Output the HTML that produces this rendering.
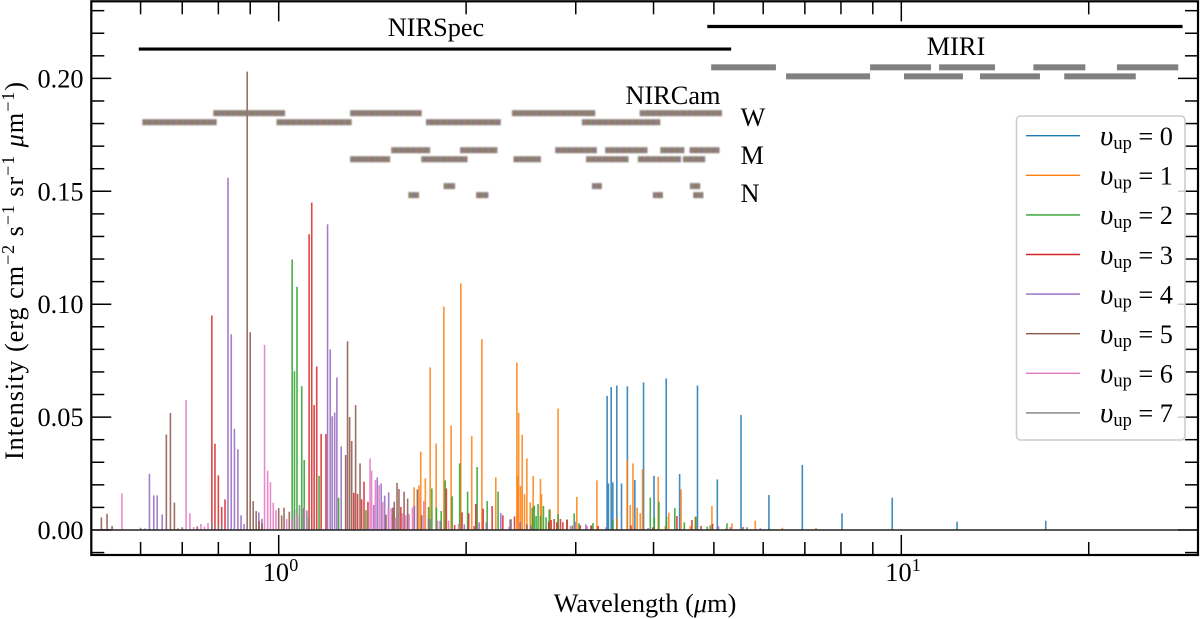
<!DOCTYPE html>
<html lang="en">
<head>
<meta charset="utf-8">
<title>Line intensity spectrum</title>
<style>
html,body{margin:0;padding:0;background:#fff;}
svg{display:block;}
text{font-family:"Liberation Serif","DejaVu Serif",serif;fill:#000;}
</style>
</head>
<body>
<svg id="chart" xmlns="http://www.w3.org/2000/svg" width="1200" height="619" viewBox="0 0 1200 619">
  <defs>
    <pattern id="stripes" patternUnits="userSpaceOnUse" x="0" y="0" width="12" height="10">
      <rect x="0" y="0" width="2" height="10" fill="#937b69"/>
      <rect x="2" y="0" width="2" height="10" fill="#7d8a72"/>
      <rect x="4" y="0" width="2" height="10" fill="#997470"/>
      <rect x="6" y="0" width="2" height="10" fill="#7b7f8c"/>
      <rect x="8" y="0" width="2" height="10" fill="#968268"/>
      <rect x="10" y="0" width="2" height="10" fill="#907280"/>
    </pattern>
    <filter id="soft" x="-5%" y="-40%" width="110%" height="180%">
      <feGaussianBlur stdDeviation="0.8"/>
    </filter>
  </defs>
  <rect x="0" y="0" width="1200" height="619" fill="#fff"/>
  <g id="spectrum"></g>
  <g id="nircam"></g>
  <g id="miri"></g>
  <g id="coverage"></g>
  <g id="ticks"></g>
  <g id="ticklabels"></g>

  <text x="436" y="36" font-size="26.3" text-anchor="middle">NIRSpec</text>
  <text x="956" y="55" font-size="26.3" text-anchor="middle">MIRI</text>
  <text x="673" y="104" font-size="26.3" text-anchor="middle">NIRCam</text>
  <text x="740.5" y="126" font-size="26.3">W</text>
  <text x="740.5" y="164" font-size="26.3">M</text>
  <text x="740.5" y="202" font-size="26.3">N</text>

  <text x="645" y="612" font-size="26.3" text-anchor="middle">Wavelength (<tspan font-style="italic">μ</tspan>m)</text>
  <text transform="translate(23,460) rotate(-90)" font-size="26.3" textLength="378" lengthAdjust="spacing">Intensity (erg cm<tspan font-size="18" dy="-9">−2</tspan><tspan dy="9"> s</tspan><tspan font-size="18" dy="-9">−1</tspan><tspan dy="9"> sr</tspan><tspan font-size="18" dy="-9">−1</tspan><tspan dy="9"> </tspan><tspan font-style="italic">μ</tspan>m<tspan font-size="18" dy="-9">−1</tspan><tspan dy="9">)</tspan></text>

  <g>
    <rect x="1016.5" y="116" width="168.5" height="324" rx="4" ry="4" fill="#fff" fill-opacity="0.8" stroke="#ccc" stroke-width="1.6"/>
    <g><line x1="1026" x2="1080" y1="135.7" y2="135.7" stroke="#1f77b4" stroke-width="1.4"/><text x="1100" y="145" font-size="26.3"><tspan font-style="italic" font-size="29">υ</tspan><tspan font-size="18.5" dy="4">up</tspan><tspan dy="-4"> = 0</tspan></text></g>
    <g><line x1="1026" x2="1080" y1="175.3" y2="175.3" stroke="#ff7f0e" stroke-width="1.4"/><text x="1100" y="184.6" font-size="26.3"><tspan font-style="italic" font-size="29">υ</tspan><tspan font-size="18.5" dy="4">up</tspan><tspan dy="-4"> = 1</tspan></text></g>
    <g><line x1="1026" x2="1080" y1="214.9" y2="214.9" stroke="#2ca02c" stroke-width="1.4"/><text x="1100" y="224.2" font-size="26.3"><tspan font-style="italic" font-size="29">υ</tspan><tspan font-size="18.5" dy="4">up</tspan><tspan dy="-4"> = 2</tspan></text></g>
    <g><line x1="1026" x2="1080" y1="254.5" y2="254.5" stroke="#d62728" stroke-width="1.4"/><text x="1100" y="263.8" font-size="26.3"><tspan font-style="italic" font-size="29">υ</tspan><tspan font-size="18.5" dy="4">up</tspan><tspan dy="-4"> = 3</tspan></text></g>
    <g><line x1="1026" x2="1080" y1="294.1" y2="294.1" stroke="#9467bd" stroke-width="1.4"/><text x="1100" y="303.4" font-size="26.3"><tspan font-style="italic" font-size="29">υ</tspan><tspan font-size="18.5" dy="4">up</tspan><tspan dy="-4"> = 4</tspan></text></g>
    <g><line x1="1026" x2="1080" y1="333.7" y2="333.7" stroke="#8c564b" stroke-width="1.4"/><text x="1100" y="343" font-size="26.3"><tspan font-style="italic" font-size="29">υ</tspan><tspan font-size="18.5" dy="4">up</tspan><tspan dy="-4"> = 5</tspan></text></g>
    <g><line x1="1026" x2="1080" y1="373.3" y2="373.3" stroke="#e377c2" stroke-width="1.4"/><text x="1100" y="382.6" font-size="26.3"><tspan font-style="italic" font-size="29">υ</tspan><tspan font-size="18.5" dy="4">up</tspan><tspan dy="-4"> = 6</tspan></text></g>
    <g><line x1="1026" x2="1080" y1="412.9" y2="412.9" stroke="#7f7f7f" stroke-width="1.4"/><text x="1100" y="422.2" font-size="26.3"><tspan font-style="italic" font-size="29">υ</tspan><tspan font-size="18.5" dy="4">up</tspan><tspan dy="-4"> = 7</tspan></text></g>
  </g>
</svg>
<script>
// Wavelengths (micron) and intensities for each upper vibrational level
const wave0=[3.369,3.385,3.42,3.441,3.492,3.553,3.631,3.733,3.855,4.007,4.192,4.405,4.706,5.064,5.528,6.129,6.935,8.03,9.67,12.29,17.06];
const flux0=[.0594,.0206,.0633,.0211,.064,.0206,.0636,.0221,.0653,.024,.0671,.0248,.064,.0224,.0509,.0155,.0288,.0074,.0143,.0037,.0041];

const wave1=[1.65,1.68,1.691,1.72,1.751,1.79,1.842,1.892,1.961,2.042,2.12,2.232,2.413,2.42,2.429,2.446,2.461,2.482,2.504,2.535,2.563,2.633,2.643,2.729,2.81,3.012,3.244,3.497,3.628,3.67,3.707,3.765,3.808,3.84,4.07,4.177,4.232,4.428,4.582,4.667,4.964,5.346,5.827,6.44,7.295];
const flux1=[.0189,.0198,.0347,.0229,.072,.0383,.099,.0463,.1093,.0416,.0845,.0233,.0742,.0239,.0519,.0195,.0422,.0159,.0317,.0122,.0239,.0227,.0159,.0091,.0538,.0147,.022,.0055,.031,.0111,.0295,.0099,.0074,.027,.0236,.0018,.0077,.018,.0018,.0059,.0106,.003,.0041,.001,.0009];

const wave2=[1.051,1.06,1.07,1.089,1.099,1.161,1.248,1.381,1.741,1.762,1.792,1.824,1.851,1.899,1.953,2.011,2.083,2.162,2.251,2.554,2.573,2.591,2.61,2.633,2.662,2.688,2.72,2.81,2.906,2.983,3.036,3.197,3.441,3.952,4.011,4.08,4.197,4.327,4.482,4.678,4.879,4.934,5.248,5.651,6.135];
const flux2=[.1198,.0703,.1077,.0637,.031,.024,.0143,.0088,.0102,.0184,.0099,.0084,.022,.0149,.0295,.017,.0279,.0128,.017,.0099,.0108,.0062,.0115,.0063,.0106,.0056,.0091,.0069,.0047,.0074,.003,.0031,.0044,.0143,.0056,.0125,.0059,.0097,.0034,.0059,.0015,.0021,.003,.0012,.0006];

const wave3=[.781,.79,.8,.81,.82,1.119,1.13,1.14,1.151,1.17,1.191,1.32,1.339,1.359,1.371,1.391,1.571,1.859,1.917,1.97,2.019,2.073,2.13,2.202,2.291,2.392,2.714,2.739,2.77,2.797,2.835,2.86,2.903,3.05,3.18,3.26,3.68,3.99,4.361,4.61,4.768,4.976,5.233,5.568];
const flux3=[.095,.0382,.0242,.0102,.0136,.131,.145,.0553,.0724,.0425,.0425,.0165,.016,.0136,.0214,.0125,.0102,.0184,.0022,.0078,.0074,.0115,.0094,.0106,.0065,.006,.0037,.0044,.0049,.0034,.0049,.0035,.0044,.0021,.002,.0018,.002,.0012,.0062,.0044,.0018,.0027,.0006,.0013];

const wave4=[.62,.63,.638,.65,.829,.839,.849,.86,.87,.88,.929,.94,1.198,1.21,1.219,1.23,1.24,1.26,1.421,1.44,1.461,1.48,1.502,1.652,1.817,1.987,2.099,2.155,2.274,2.361,2.443,2.54,2.993,3.114,3.356,3.92,5.086,5.313,5.937];
const flux4=[.0249,.0153,.0153,.0069,.156,.0867,.0448,.0357,.0065,.0027,.0078,.0049,.1354,.08,.0504,.052,.0676,.037,.0111,.0233,.0206,.0152,.0167,.0108,.0041,.0025,.0034,.0034,.0075,.0047,.0035,.002,.0037,.0025,.0012,.0009,.0016,.0013,.0008];

const wave5=[.519,.53,.54,.66,.67,.68,.689,.7,.74,.89,.9,.91,.92,.93,.94,1.0,1.011,1.02,1.04,1.281,1.29,1.3,1.31,1.329,1.351,1.487,1.525,1.533,1.549,1.56,1.59,1.611,1.67,1.697,2.06,2.354,2.504,2.961,3.173];
const flux5=[.0056,.0072,.0018,.0423,.0518,.0121,.0007,.0012,.0016,.203,.0876,.0128,.0084,.004,.003,.0097,.0065,.0099,.0081,.0332,.0836,.05,.0394,.0553,.0295,.0068,.0099,.0125,.0209,.0181,.017,.0139,.018,.0066,.0018,.0047,.0025,.002,.002];

const wave6=[.56,.71,.72,.73,.75,.76,.77,.949,.96,.97,.98,.99,1.03,1.05,1.072,1.1,1.402,1.41,1.43,1.45,1.47,1.5,1.516,1.54,1.58,1.6,1.62,1.64,1.71,1.8,1.875,1.945,2.343,2.939,3.13];
const flux6=[.0162,.0575,.0074,.0013,.0027,.0015,.0031,.082,.0263,.0212,.0121,.0088,.0049,.005,.0066,.0096,.0317,.0263,.0221,.0199,.0125,.0096,.0096,.0055,.0074,.0066,.0071,.01,.0128,.0041,.0041,.0027,.0015,.0018,.0018];

const wave7=[.6,.61,.781,.8,.81,1.06,1.08,1.096,1.11,1.118,1.74,1.751,2.36];
const flux7=[.001,.0007,.0034,.0025,.0018,.0088,.011,.0096,.0086,.0052,.0049,.0049,.0047];

const seriesWaves=[wave0,wave1,wave2,wave3,wave4,wave5,wave6,wave7];
const seriesFluxes=[flux0,flux1,flux2,flux3,flux4,flux5,flux6,flux7];
const seriesColors=['#1f77b4','#ff7f0e','#2ca02c','#d62728','#9467bd','#8c564b','#e377c2','#7f7f7f'];

// Filter coverage as [start, end] wavelengths (micron), per row intensity level
const nircamWideTopStart=[.785,1.302,2.369,3.80];
const nircamWideTopEnd=[1.024,1.697,3.224,5.152];
const nircamWideBottomStart=[.604,.992,1.724,3.069];
const nircamWideBottomEnd=[.795,1.31,2.274,4.101];
const nircamMediumTopStart=[1.516,1.956,2.78,3.345,4.101,4.57];
const nircamMediumTopEnd=[1.751,2.245,3.244,3.911,4.482,5.105];
const nircamMediumBottomStart=[1.302,1.694,2.383,3.117,3.774,4.46];
const nircamMediumBottomEnd=[1.51,2.01,2.637,3.647,4.428,4.843];
const nircamNarrowTopStart=[1.84,3.185,4.576];
const nircamNarrowTopEnd=[1.92,3.305,4.755];
const nircamNarrowBottomStart=[1.615,2.075,3.99,4.63];
const nircamNarrowBottomEnd=[1.68,2.172,4.142,4.81];
const nircamRowLevels=[.1846,.1806,.1682,.1642,.1523,.1483];

const miriTopStart=[4.95,8.91,11.5,16.3,22.2];
const miriTopEnd=[6.29,11.16,14.14,19.75,27.85];
const miriBottomStart=[6.53,10.1,13.38,18.27];
const miriBottomEnd=[8.91,12.56,16.7,23.8];
const miriRowLevels=[.2049,.2009];

const coverageStart=[.596,4.88];
const coverageEnd=[5.33,28.3];
const coverageLevels=[.2130,.2230];

const yTickValues=[-.01,0,.01,.02,.03,.04,.05,.06,.07,.08,.09,.10,.11,.12,.13,.14,.15,.16,.17,.18,.19,.20,.21,.22,.23];
const yLabelValues=[0,.05,.10,.15,.20];
const xMajorValues=[1,10];
const xMajorExponents=['0','1'];
const xMinorValues=[.6,.7,.8,.9,2,3,4,5,6,7,8,9,20];

const SVGNS='http://www.w3.org/2000/svg';
const X0=278.7,XDEC=622.6,Y0=530,YSCALE=2258;
const L=91.3,R=1198,T=1.3,B=555;
function xAxis(w){return X0+XDEC*Math.log10(w);}
function yAxis(v){return Y0-YSCALE*v;}
function mk(tag,attrs,parent){
  const el=document.createElementNS(SVGNS,tag);
  for(const k in attrs){el.setAttribute(k,attrs[k]);}
  parent.appendChild(el);
  return el;
}

const specG=document.getElementById('spectrum');
seriesWaves.forEach(function(ws,s){
  const g=mk('g',{stroke:seriesColors[s],'stroke-width':1.6,'stroke-opacity':0.85},specG);
  
  
  ws.forEach(function(w,i){
    const ln=mk('line',{x1:xAxis(w).toFixed(2),x2:xAxis(w).toFixed(2),y1:yAxis(0),y2:yAxis(seriesFluxes[s][i]).toFixed(2)},g);
    
    
  });
});

function drawBars(parent,starts,ends,level,fill,filter,name){
  starts.forEach(function(w,i){
    const x1=xAxis(w),x2=xAxis(ends[i]);
    const r=mk('rect',{x:x1.toFixed(2),y:(yAxis(level)-3).toFixed(2),width:(x2-x1).toFixed(2),height:6,fill:fill},parent);
    if(filter){r.setAttribute('filter',filter);}
    
    
  });
}
const nircamG=document.getElementById('nircam');
const stripeFill='url(#stripes)',softFilter='url(#soft)';
drawBars(nircamG,nircamWideTopStart,nircamWideTopEnd,nircamRowLevels[0],stripeFill,softFilter,'nircam-wide-filter-bar');
drawBars(nircamG,nircamWideBottomStart,nircamWideBottomEnd,nircamRowLevels[1],stripeFill,softFilter,'nircam-wide-filter-bar');
drawBars(nircamG,nircamMediumTopStart,nircamMediumTopEnd,nircamRowLevels[2],stripeFill,softFilter,'nircam-medium-filter-bar');
drawBars(nircamG,nircamMediumBottomStart,nircamMediumBottomEnd,nircamRowLevels[3],stripeFill,softFilter,'nircam-medium-filter-bar');
drawBars(nircamG,nircamNarrowTopStart,nircamNarrowTopEnd,nircamRowLevels[4],stripeFill,softFilter,'nircam-narrow-filter-bar');
drawBars(nircamG,nircamNarrowBottomStart,nircamNarrowBottomEnd,nircamRowLevels[5],stripeFill,softFilter,'nircam-narrow-filter-bar');
const miriG=document.getElementById('miri');
drawBars(miriG,miriTopStart,miriTopEnd,miriRowLevels[0],'#808080',null,'miri-filter-bar');
drawBars(miriG,miriBottomStart,miriBottomEnd,miriRowLevels[1],'#808080',null,'miri-filter-bar');

const covG=document.getElementById('coverage');
coverageStart.forEach(function(w,i){
  const ln=mk('line',{x1:xAxis(w).toFixed(2),x2:xAxis(coverageEnd[i]).toFixed(2),y1:yAxis(coverageLevels[i]).toFixed(2),y2:yAxis(coverageLevels[i]).toFixed(2),stroke:'#000','stroke-width':3.2},covG);
  
  
});

const tickG=document.getElementById('ticks');
const labelG=document.getElementById('ticklabels');
function isMajorY(v){return Math.abs(v*20-Math.round(v*20))<1e-6;}
yTickValues.forEach(function(v){
  const len=isMajorY(v)?20:13,y=yAxis(v).toFixed(2);
  const a=mk('line',{x1:L,x2:L+len,y1:y,y2:y,stroke:'#000','stroke-width':1.5},tickG);
  
  
  const b=mk('line',{x1:R,x2:R-len,y1:y,y2:y,stroke:'#000','stroke-width':1.5},tickG);
  
  
});
function xTick(w,len){
  const x=xAxis(w).toFixed(2);
  const a=mk('line',{x1:x,x2:x,y1:B,y2:B-len,stroke:'#000','stroke-width':1.5},tickG);
  
  
  const b=mk('line',{x1:x,x2:x,y1:T,y2:T+len,stroke:'#000','stroke-width':1.5},tickG);
  
  
}
xMinorValues.forEach(function(w){xTick(w,13);});
xMajorValues.forEach(function(w){xTick(w,20);});

const zero=mk('line',{x1:L,x2:R,y1:yAxis(0),y2:yAxis(0),stroke:'#222','stroke-width':1.5},tickG);


const spine=mk('rect',{x:L,y:T,width:R-L,height:B-T,fill:'none',stroke:'#000','stroke-width':2.2},tickG);



yLabelValues.forEach(function(v){
  const t=mk('text',{x:83.5,y:(yAxis(v)+9).toFixed(2),'font-size':26.3,'text-anchor':'end'},labelG);
  t.textContent=v.toFixed(2);
  
  
});
xMajorValues.forEach(function(w,i){
  const x=xAxis(w);
  const t=mk('text',{x:(x-16).toFixed(2),y:581,'font-size':26.3},labelG);
  t.textContent='10';
  
  
  const e=mk('text',{x:(x+10.5).toFixed(2),y:571,'font-size':18},labelG);
  e.textContent=xMajorExponents[i];
  
  
});
</script>
</body>
</html>
